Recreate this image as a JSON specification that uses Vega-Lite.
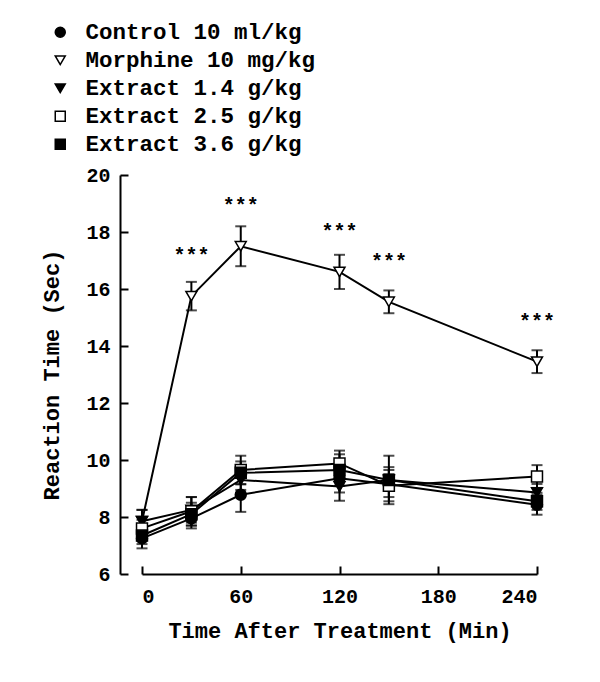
{
  "$schema": "https://vega.github.io/schema/vega-lite/v6.json",
  "autosize": "none",
  "width": 395,
  "height": 399,
  "padding": {"left": 142, "top": 175, "right": 63, "bottom": 108},
  "background": "white",
  "config": {
    "view": {"stroke": null},
    "font": "Liberation Mono",
    "axis": {
      "grid": false,
      "domainColor": "black",
      "domainWidth": 2,
      "tickColor": "black",
      "tickWidth": 2,
      "tickSize": -8,
      "labelFont": "Liberation Mono",
      "labelFontWeight": "bold",
      "labelFontSize": 20,
      "labelColor": "black",
      "titleFont": "Liberation Mono",
      "titleFontWeight": "bold",
      "titleFontSize": 22,
      "titleColor": "black"
    },
    "legend": {
      "orient": "none",
      "legendX": -93,
      "legendY": -154,
      "padding": 0,
      "labelFont": "Liberation Mono",
      "labelFontWeight": "bold",
      "labelFontSize": 22.5,
      "labelColor": "black",
      "labelLimit": 400,
      "labelOffset": 14,
      "symbolSize": 100,
      "symbolStrokeWidth": 1.5,
      "rowPadding": 5,
      "title": null
    }
  },
  "data": {
    "values": [
      {"group": "Control 10 ml/kg", "time": 0, "mean": 7.25, "sem": 0.35},
      {"group": "Control 10 ml/kg", "time": 30, "mean": 7.95, "sem": 0.35},
      {"group": "Control 10 ml/kg", "time": 60, "mean": 8.78, "sem": 0.6},
      {"group": "Control 10 ml/kg", "time": 120, "mean": 9.36, "sem": 0.5},
      {"group": "Control 10 ml/kg", "time": 150, "mean": 9.15, "sem": 0.6},
      {"group": "Control 10 ml/kg", "time": 240, "mean": 8.43, "sem": 0.35},
      {"group": "Morphine 10 mg/kg", "time": 0, "mean": 7.85, "sem": 0.4},
      {"group": "Morphine 10 mg/kg", "time": 30, "mean": 15.75, "sem": 0.5},
      {"group": "Morphine 10 mg/kg", "time": 60, "mean": 17.5, "sem": 0.7},
      {"group": "Morphine 10 mg/kg", "time": 120, "mean": 16.6, "sem": 0.6},
      {"group": "Morphine 10 mg/kg", "time": 150, "mean": 15.55, "sem": 0.4},
      {"group": "Morphine 10 mg/kg", "time": 240, "mean": 13.45, "sem": 0.4},
      {"group": "Extract 1.4 g/kg", "time": 0, "mean": 7.85, "sem": 0.4},
      {"group": "Extract 1.4 g/kg", "time": 30, "mean": 8.25, "sem": 0.45},
      {"group": "Extract 1.4 g/kg", "time": 60, "mean": 9.3, "sem": 0.35},
      {"group": "Extract 1.4 g/kg", "time": 120, "mean": 9.07, "sem": 0.5},
      {"group": "Extract 1.4 g/kg", "time": 150, "mean": 9.3, "sem": 0.35},
      {"group": "Extract 1.4 g/kg", "time": 240, "mean": 8.86, "sem": 0.3},
      {"group": "Extract 2.5 g/kg", "time": 0, "mean": 7.6, "sem": 0.3},
      {"group": "Extract 2.5 g/kg", "time": 30, "mean": 8.2, "sem": 0.5},
      {"group": "Extract 2.5 g/kg", "time": 60, "mean": 9.65, "sem": 0.5},
      {"group": "Extract 2.5 g/kg", "time": 120, "mean": 9.88, "sem": 0.45},
      {"group": "Extract 2.5 g/kg", "time": 150, "mean": 9.1, "sem": 0.4},
      {"group": "Extract 2.5 g/kg", "time": 240, "mean": 9.42, "sem": 0.4},
      {"group": "Extract 3.6 g/kg", "time": 0, "mean": 7.35, "sem": 0.3},
      {"group": "Extract 3.6 g/kg", "time": 30, "mean": 8.1, "sem": 0.4},
      {"group": "Extract 3.6 g/kg", "time": 60, "mean": 9.55, "sem": 0.4},
      {"group": "Extract 3.6 g/kg", "time": 120, "mean": 9.65, "sem": 0.55},
      {"group": "Extract 3.6 g/kg", "time": 150, "mean": 9.3, "sem": 0.85},
      {"group": "Extract 3.6 g/kg", "time": 240, "mean": 8.55, "sem": 0.3}
    ]
  },
  "encoding": {
    "x": {
      "field": "time",
      "type": "quantitative",
      "scale": {"domain": [0, 240], "nice": false, "zero": false},
      "axis": {"values": [0, 60, 120, 180, 240], "title": "Time After Treatment (Min)", "labelPadding": 20, "titlePadding": 14}
    },
    "y": {
      "field": "mean",
      "type": "quantitative",
      "scale": {"domain": [6, 20], "nice": false, "zero": false},
      "axis": {"values": [6, 8, 10, 12, 14, 16, 18, 20], "title": "Reaction Time (Sec)", "offset": 22, "labelPadding": 18, "titlePadding": 22}
    }
  },
  "layer": [
    {
      "mark": {"type": "line", "color": "black", "strokeWidth": 2},
      "encoding": {
        "detail": {"field": "group"}
      }
    },
    {
      "mark": {"type": "errorbar", "ticks": {"size": 11, "thickness": 2, "color": "black"}, "rule": {"strokeWidth": 2, "color": "black"}},
      "encoding": {
        "yError": {"field": "sem"},
        "detail": {"field": "group"}
      }
    },
    {
      "mark": {"type": "point", "strokeWidth": 1.5, "opacity": 1, "fillOpacity": 1, "strokeOpacity": 1, "size": 120},
      "encoding": {
        "shape": {
          "field": "group",
          "type": "nominal",
          "scale": {
            "domain": ["Control 10 ml/kg", "Morphine 10 mg/kg", "Extract 1.4 g/kg", "Extract 2.5 g/kg", "Extract 3.6 g/kg"],
            "range": ["circle", "triangle-down", "triangle-down", "square", "square"]
          },
          "legend": {"title": null}
        },
        "fill": {
          "field": "group",
          "type": "nominal",
          "scale": {
            "domain": ["Control 10 ml/kg", "Morphine 10 mg/kg", "Extract 1.4 g/kg", "Extract 2.5 g/kg", "Extract 3.6 g/kg"],
            "range": ["black", "white", "black", "white", "black"]
          },
          "legend": {"title": null}
        },
        "stroke": {
          "field": "group",
          "type": "nominal",
          "scale": {
            "domain": ["Control 10 ml/kg", "Morphine 10 mg/kg", "Extract 1.4 g/kg", "Extract 2.5 g/kg", "Extract 3.6 g/kg"],
            "range": ["black", "black", "black", "black", "black"]
          },
          "legend": {"title": null}
        }
      }
    },
    {
      "transform": [{"filter": "datum.group === 'Morphine 10 mg/kg' && datum.time > 0"}],
      "mark": {"type": "text", "text": "***", "font": "Liberation Mono", "fontWeight": "bold", "fontSize": 20, "dy": -40, "baseline": "middle", "color": "black"}
    }
  ]
}
